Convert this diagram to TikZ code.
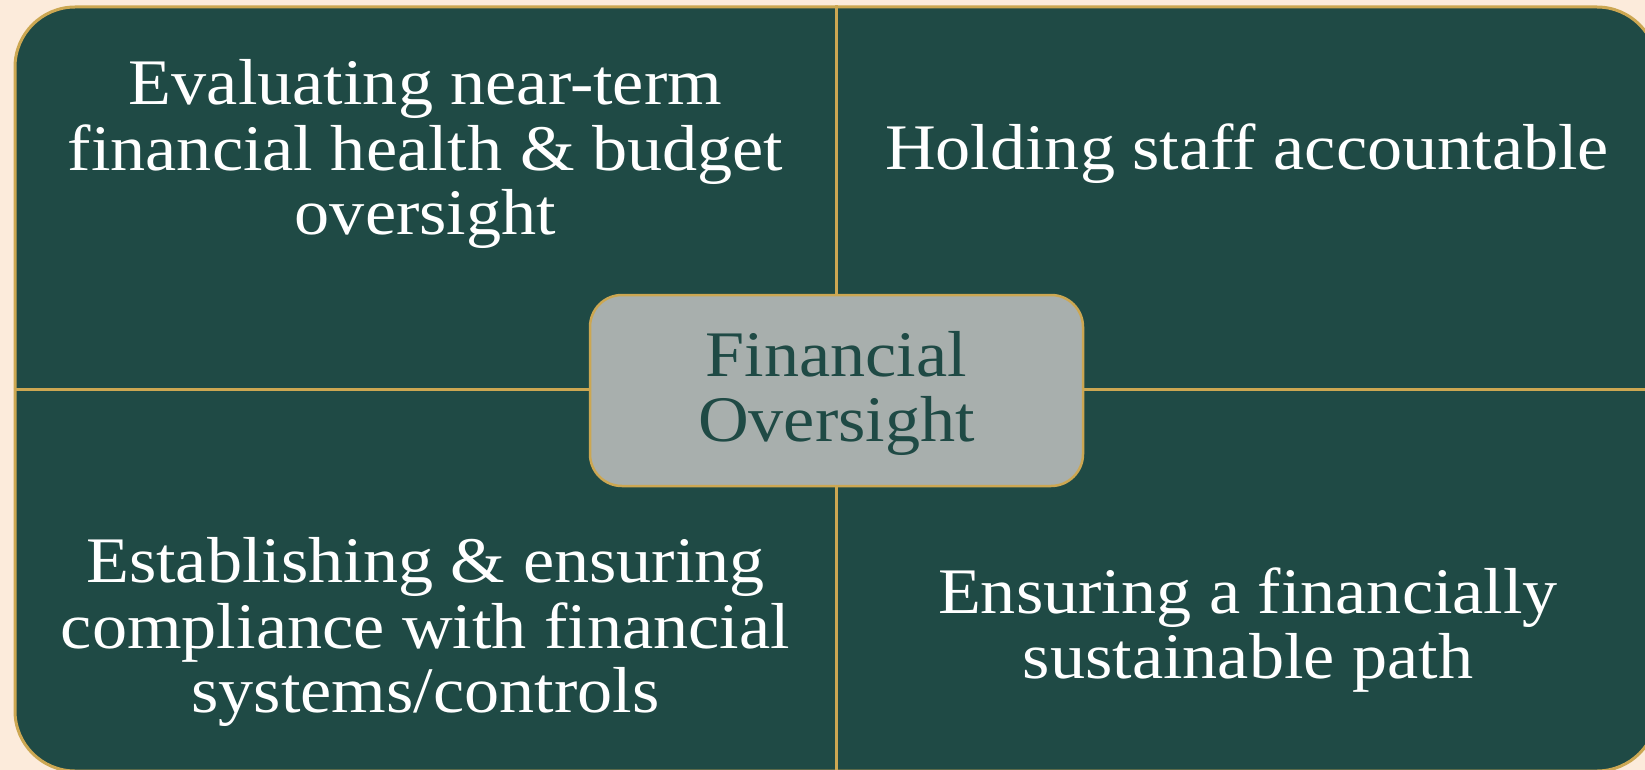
\documentclass[tikz,border=0pt]{standalone}
\usepackage{fontspec}
\setmainfont{Liberation Serif}[FakeStretch=1.08]
\definecolor{cream}{HTML}{FCEBDB}
\definecolor{deepgreen}{HTML}{1F4A45}
\definecolor{gold}{HTML}{CCA752}
\definecolor{hubgray}{HTML}{A8AFAD}
\begin{document}
\begin{tikzpicture}[x=1pt,y=-1pt,
  framebox/.style={draw=gold, line width=3pt, fill=deepgreen, rounded corners=60pt,
    minimum width=1642pt, minimum height=764pt, inner sep=0pt},
  divider/.style={draw=gold, line width=3pt},
  hubbox/.style={draw=gold, line width=2.5pt, fill=hubgray, rounded corners=32pt,
    minimum width=493pt, minimum height=191pt, inner sep=0pt},
  qtext/.style={anchor=north, inner sep=0pt, align=center, text=white,
    font=\fontsize{65}{64}\selectfont},
  hubtext/.style={qtext, text=deepgreen}]
\useasboundingbox (0,0) rectangle (1645,770);
\fill[cream] (0,0) rectangle (1645,770);
\clip (0,0) rectangle (1645,770);
\node[framebox] (frame) at (836,389) {};
\draw[divider] (frame.north) -- (frame.south);
\draw[divider] (frame.west) -- (frame.east);
\node[hubbox] (hub) at (836.5,390.5) {};
\node[hubtext] (hublabel) at (836.5,331.2) {\strut Financial\\Oversight};
\node[qtext] (tl) at (425.5,59.2) {\strut Evaluating near-term\\financial health \& budget\\oversight};
\node[qtext] (tr) at (1247,123.2) {\strut Holding staff accountable};
\node[qtext] (bl) at (425.5,537.2) {\strut Establishing \& ensuring\\compliance with financial\\systems/controls};
\node[qtext] (br) at (1248,567.2) {\strut Ensuring a financially\\sustainable path};
\end{tikzpicture}
\end{document}
